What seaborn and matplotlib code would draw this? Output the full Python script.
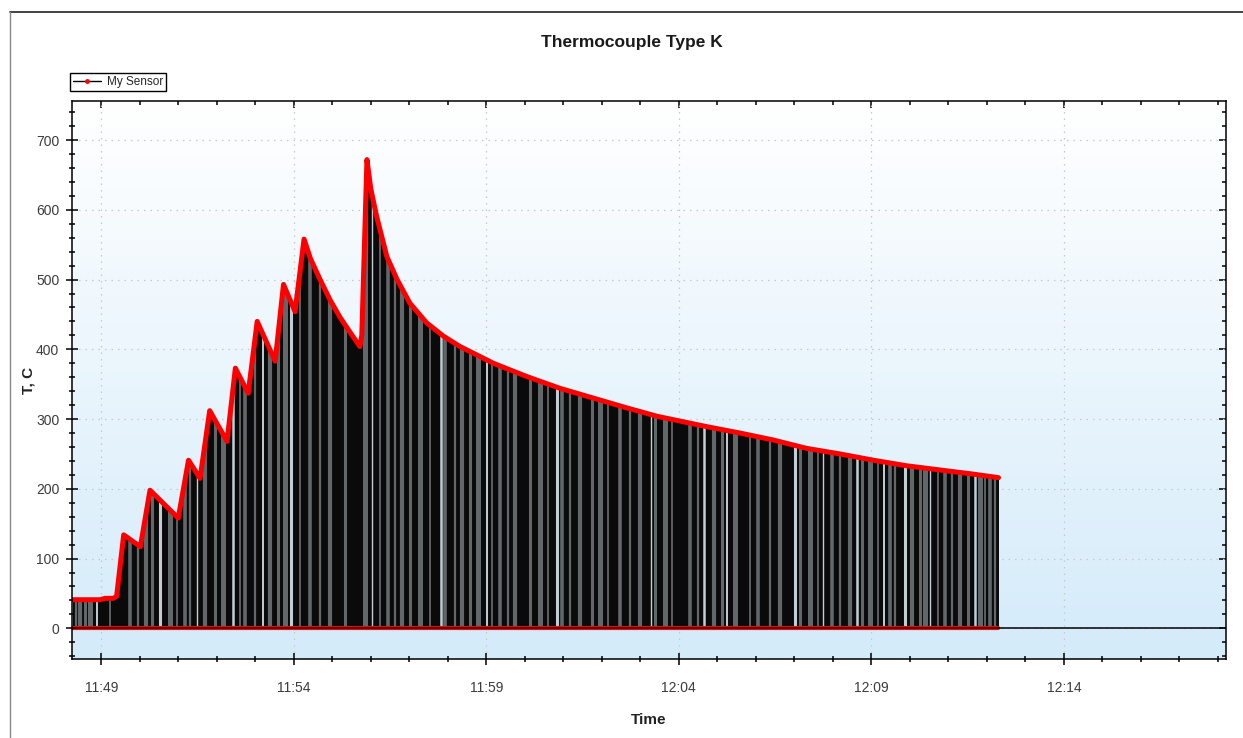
import numpy as np
import pandas as pd
import matplotlib
matplotlib.use("Agg")
import matplotlib.pyplot as plt
import matplotlib.dates as mdates
from matplotlib.lines import Line2D
import seaborn as sns

# ---------------- data ----------------
# seconds after 11:48:00 and sensor temperature (deg C)
sensor_sec = [15, 58, 66, 79, 84, 95, 121, 136, 180, 196, 214, 229, 256, 269,
              289, 303, 331, 344, 362, 376, 386, 401, 417, 432, 448, 463, 466,
              474, 480, 489, 505, 521, 541, 567, 593, 619, 671, 723, 775, 827,
              879, 926, 1004, 1055, 1107, 1159, 1211, 1263, 1315, 1367, 1419, 1458]
sensor_temp = [41, 41, 43, 43, 46, 134, 117, 198, 158, 241, 215, 312, 268, 373,
               337, 440, 383, 493, 454, 558, 530, 500, 470, 446, 424, 404, 420,
               672, 630, 591, 533, 500, 466, 438, 419, 404, 380, 361, 344, 330,
               316, 304, 289, 280, 270, 258, 250, 241, 233, 227, 221, 216]
# instants where the dense drop-out lines thin out (seconds after 11:48:00)
light_gap_sec = [54, 152, 210, 266, 312, 356, 482, 590, 661, 770, 917, 999,
                 1035, 1141, 1185, 1238, 1279, 1312, 1351, 1421]
grey_gap_sec = [20, 27, 35, 43, 74, 105, 118, 129, 139, 167, 178, 191, 199, 222,
                238, 249, 277, 284, 300, 323, 336, 347, 370, 386, 401, 417, 440,
                471, 495, 507, 518, 529, 541, 557, 573, 596, 611, 622, 635, 647,
                669, 681, 694, 705, 728, 744, 756, 778, 791, 806, 825, 837, 850,
                868, 884, 899, 923, 938, 949, 977, 990, 1015, 1027, 1048, 1071,
                1083, 1102, 1118, 1149, 1164, 1177, 1199, 1211, 1227, 1245, 1258,
                1270, 1289, 1297, 1323, 1336, 1344, 1364, 1375, 1386, 1398, 1411,
                1429, 1437, 1445, 1453]
x_range_sec = [14, 1812]
y_range = [-44, 756]

title = "Thermocouple Type K"
series_name = "My Sensor"
x_label = "Time"
y_label = "T, C"

# ---------------- build ----------------
base = pd.Timestamp("2020-01-01 11:48:00")
to_t = lambda s: base + pd.to_timedelta(np.asarray(s), unit="s")
df = pd.DataFrame({"time": to_t(sensor_sec), "temp": sensor_temp})
df["zero"] = 0.0

sns.set_theme(style="white")
plt.rcParams["font.family"] = ["Liberation Sans Narrow", "Liberation Sans", "DejaVu Sans"]

W, H = 1243, 738
fig = plt.figure(figsize=(W / 100, H / 100), dpi=100)
fig.patch.set_facecolor("white")
ax = fig.add_axes([71.7 / W, 1 - 659 / H, (1225.7 - 71.7) / W, (659 - 101) / H])

# gradient background
grad = np.linspace(0, 1, 256)[:, None]
top_c = np.array([255, 255, 255]) / 255
bot_c = np.array([212, 235, 250]) / 255
img = top_c[None, None, :] * (1 - grad[:, :, None]) + bot_c[None, None, :] * grad[:, :, None]
ax.imshow(img, extent=[0, 1, 0, 1], transform=ax.transAxes, aspect="auto", zorder=0)

ax.set_xlim(to_t(x_range_sec[0]), to_t(x_range_sec[1]))
ax.set_ylim(*y_range)

# dense drop-out sticks (black area under the readings)
fill = ax.fill_between(df["time"], 0, df["temp"], color="#0a0a0a", lw=0, zorder=2)
clip_path = fill.get_paths()[0]
grey_widths = np.resize([1.6, 3.0, 2.2, 3.6, 1.3, 2.6], len(grey_gap_sec))
lg = ax.vlines(to_t(grey_gap_sec), 0, y_range[1], colors="#62676a", lw=grey_widths, zorder=3)
lg.set_clip_path(clip_path, fill.get_transform())
light_widths = np.resize([1.4, 2.2, 1.0, 1.8], len(light_gap_sec))
ll = ax.vlines(to_t(light_gap_sec), 0, y_range[1], colors="#c3ced4", lw=light_widths, zorder=3)
ll.set_clip_path(clip_path, fill.get_transform())

# zero readings markers and zero line
sns.lineplot(data=df, x="time", y="zero", color="red", lw=3.0, ax=ax, zorder=4)
ax.axhline(0, color="black", lw=1.1, zorder=5)
# readings (red markers trace)
sns.lineplot(data=df, x="time", y="temp", color="red", lw=3.6, ax=ax, zorder=6)

# axes styling
ax.xaxis.set_major_locator(mdates.MinuteLocator(byminute=range(4, 60, 5)))
ax.xaxis.set_minor_locator(mdates.MinuteLocator(interval=1))
ax.xaxis.set_major_formatter(mdates.DateFormatter("%H:%M"))
ax.yaxis.set_major_locator(matplotlib.ticker.MultipleLocator(100))
ax.yaxis.set_minor_locator(matplotlib.ticker.MultipleLocator(20))
ax.set_axisbelow(True)
ax.grid(True, which="major", color="#c8c8c8", ls=(0, (1.2, 4)), lw=0.9)
for sp in ax.spines.values():
    sp.set_color("black")
    sp.set_linewidth(1.1)
    sp.set_visible(True)
    sp.set_zorder(7)
ax.tick_params(axis="both", which="major", direction="inout", length=8, width=1.1,
               color="black", labelsize=10, labelcolor="#3c3c3c",
               bottom=True, left=True, top=False, right=False)
ax.tick_params(axis="both", which="minor", direction="inout", length=5, width=1.1,
               color="black", bottom=True, left=True, top=False, right=False)
ax.tick_params(axis="x", which="major", pad=12)
ax.tick_params(axis="y", which="major", pad=5)

sec_x = ax.secondary_xaxis("top")
sec_x.xaxis.set_major_locator(mdates.MinuteLocator(byminute=range(4, 60, 5)))
sec_x.xaxis.set_minor_locator(mdates.MinuteLocator(interval=1))
sec_x.tick_params(which="major", direction="in", length=5, width=1.1, color="black", labeltop=False)
sec_x.tick_params(which="minor", direction="in", length=3, width=1.1, color="black")
sec_x.spines["top"].set_visible(False)
sec_y = ax.secondary_yaxis("right")
sec_y.yaxis.set_major_locator(matplotlib.ticker.MultipleLocator(100))
sec_y.yaxis.set_minor_locator(matplotlib.ticker.MultipleLocator(20))
sec_y.tick_params(which="major", direction="in", length=5, width=1.1, color="black", labelright=False)
sec_y.tick_params(which="minor", direction="in", length=3, width=1.1, color="black")
sec_y.spines["right"].set_visible(False)

ax.set_xlabel(x_label, fontsize=11, fontweight="bold", color="#222222", labelpad=13)
ax.set_ylabel(y_label, fontsize=11, fontweight="bold", color="#222222", labelpad=0)
fig.text(632 / W, 1 - 42 / H, title, ha="center", va="center", fontsize=12.5,
         fontweight="bold", color="#1a1a1a")

handle = Line2D([0], [0], color="black", lw=1, marker="o", ms=2.5, mfc="red", mec="red")
leg = ax.legend([handle], [series_name], loc="lower left",
                bbox_to_anchor=(70 / W, 1 - 91 / H), bbox_transform=fig.transFigure,
                frameon=True, fancybox=False, edgecolor="black", framealpha=1,
                fontsize=8.5, handlelength=2.4, borderpad=0.25, handletextpad=0.5,
                borderaxespad=0)
leg.get_frame().set_linewidth(1.0)

# outer chart border
fig.add_artist(Line2D([10 / W, 1], [1 - 12 / H, 1 - 12 / H], transform=fig.transFigure,
                      color="#222222", lw=1.2))
fig.add_artist(Line2D([10 / W, 10 / W], [0, 1 - 12 / H], transform=fig.transFigure,
                      color="#888888", lw=1.0))

fig.savefig("out.png", dpi=100, facecolor="white")
